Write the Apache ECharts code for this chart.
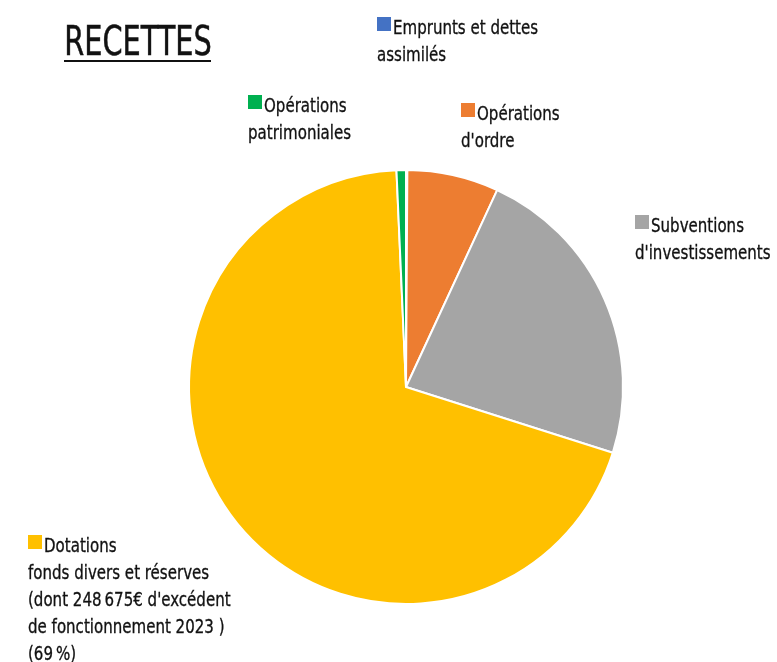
<!DOCTYPE html>
<html lang="fr">
<head>
    <meta charset="UTF-8">
    <title>Recettes</title>
    <script src="https://cdn.jsdelivr.net/npm/echarts@6/dist/echarts.min.js"></script>
    <style>
        html, body { margin: 0; padding: 0; background: #fff; }
        #chart { width: 777px; height: 662px; }
    </style>
</head>
<body>
    <div id="chart"></div>
    <script>
        // catégories dans l'ordre horaire à partir de midi
        const names = ['Emprunts et dettes assimilés', "Opérations d'ordre", "Subventions d'investissements", 'Dotations fonds divers et réserves', 'Opérations patrimoniales'];
        const values = [0.1, 6.8, 23.0, 69.4, 0.7];
        const colors = ['#4472C4', '#ED7D31', '#A5A5A5', '#FFC000', '#00B050'];
        // texte des étiquettes : première ligne, puis les suivantes
        const firstLines = ['Emprunts et dettes', 'Opérations', 'Subventions', 'Dotations', 'Opérations'];
        const otherLines = [
            'assimilés',
            "d'ordre",
            "d'investissements",
            "fonds divers et réserves\n(dont 248\u2009675€ d'excédent\nde fonctionnement 2023 )\n(69\u2009%)",
            'patrimoniales'
        ];
        // position (coin du carré) de chaque étiquette
        const labelPos = [[377, 17], [461, 103], [635, 215], [28, 535], [248, 95]];

        const font = '"DejaVu Sans Condensed", "Liberation Sans Narrow", sans-serif';
        const chart = echarts.init(document.getElementById('chart'));

        const txt = (t, va) => ({ text: t, font: '19px ' + font, fill: '#111', stroke: '#111', lineWidth: 0.3, lineHeight: 27, verticalAlign: va });

        const labels = names.map((n, i) => ({
            type: 'group',
            x: labelPos[i][0],
            y: labelPos[i][1],
            children: [
                { type: 'rect', shape: { x: 0, y: 0, width: 14, height: 14 }, style: { fill: colors[i] } },
                { type: 'text', x: 16, y: 12, scaleX: 0.88, style: txt(firstLines[i], 'middle') },
                { type: 'text', x: 0, y: 26, scaleX: 0.88, style: txt(otherLines[i], 'top') }
            ]
        }));

        const option = {
            animation: false,
            color: colors,
            graphic: [
                { type: 'text', left: 64, top: 24, scaleX: 0.8, style: { text: 'RECETTES', font: '40px ' + font, fill: '#111', stroke: '#111', lineWidth: 0.5 } },
                { type: 'rect', left: 64, top: 60, shape: { width: 147, height: 2 }, style: { fill: '#111' } }
            ].concat(labels),
            series: [{
                type: 'pie',
                center: [406, 387],
                radius: 217,
                startAngle: 90,
                clockwise: true,
                label: { show: false },
                labelLine: { show: false },
                itemStyle: { borderColor: '#fff', borderWidth: 2 },
                data: names.map((n, i) => ({ name: n, value: values[i] }))
            }]
        };
        chart.setOption(option);
    </script>
</body>
</html>
